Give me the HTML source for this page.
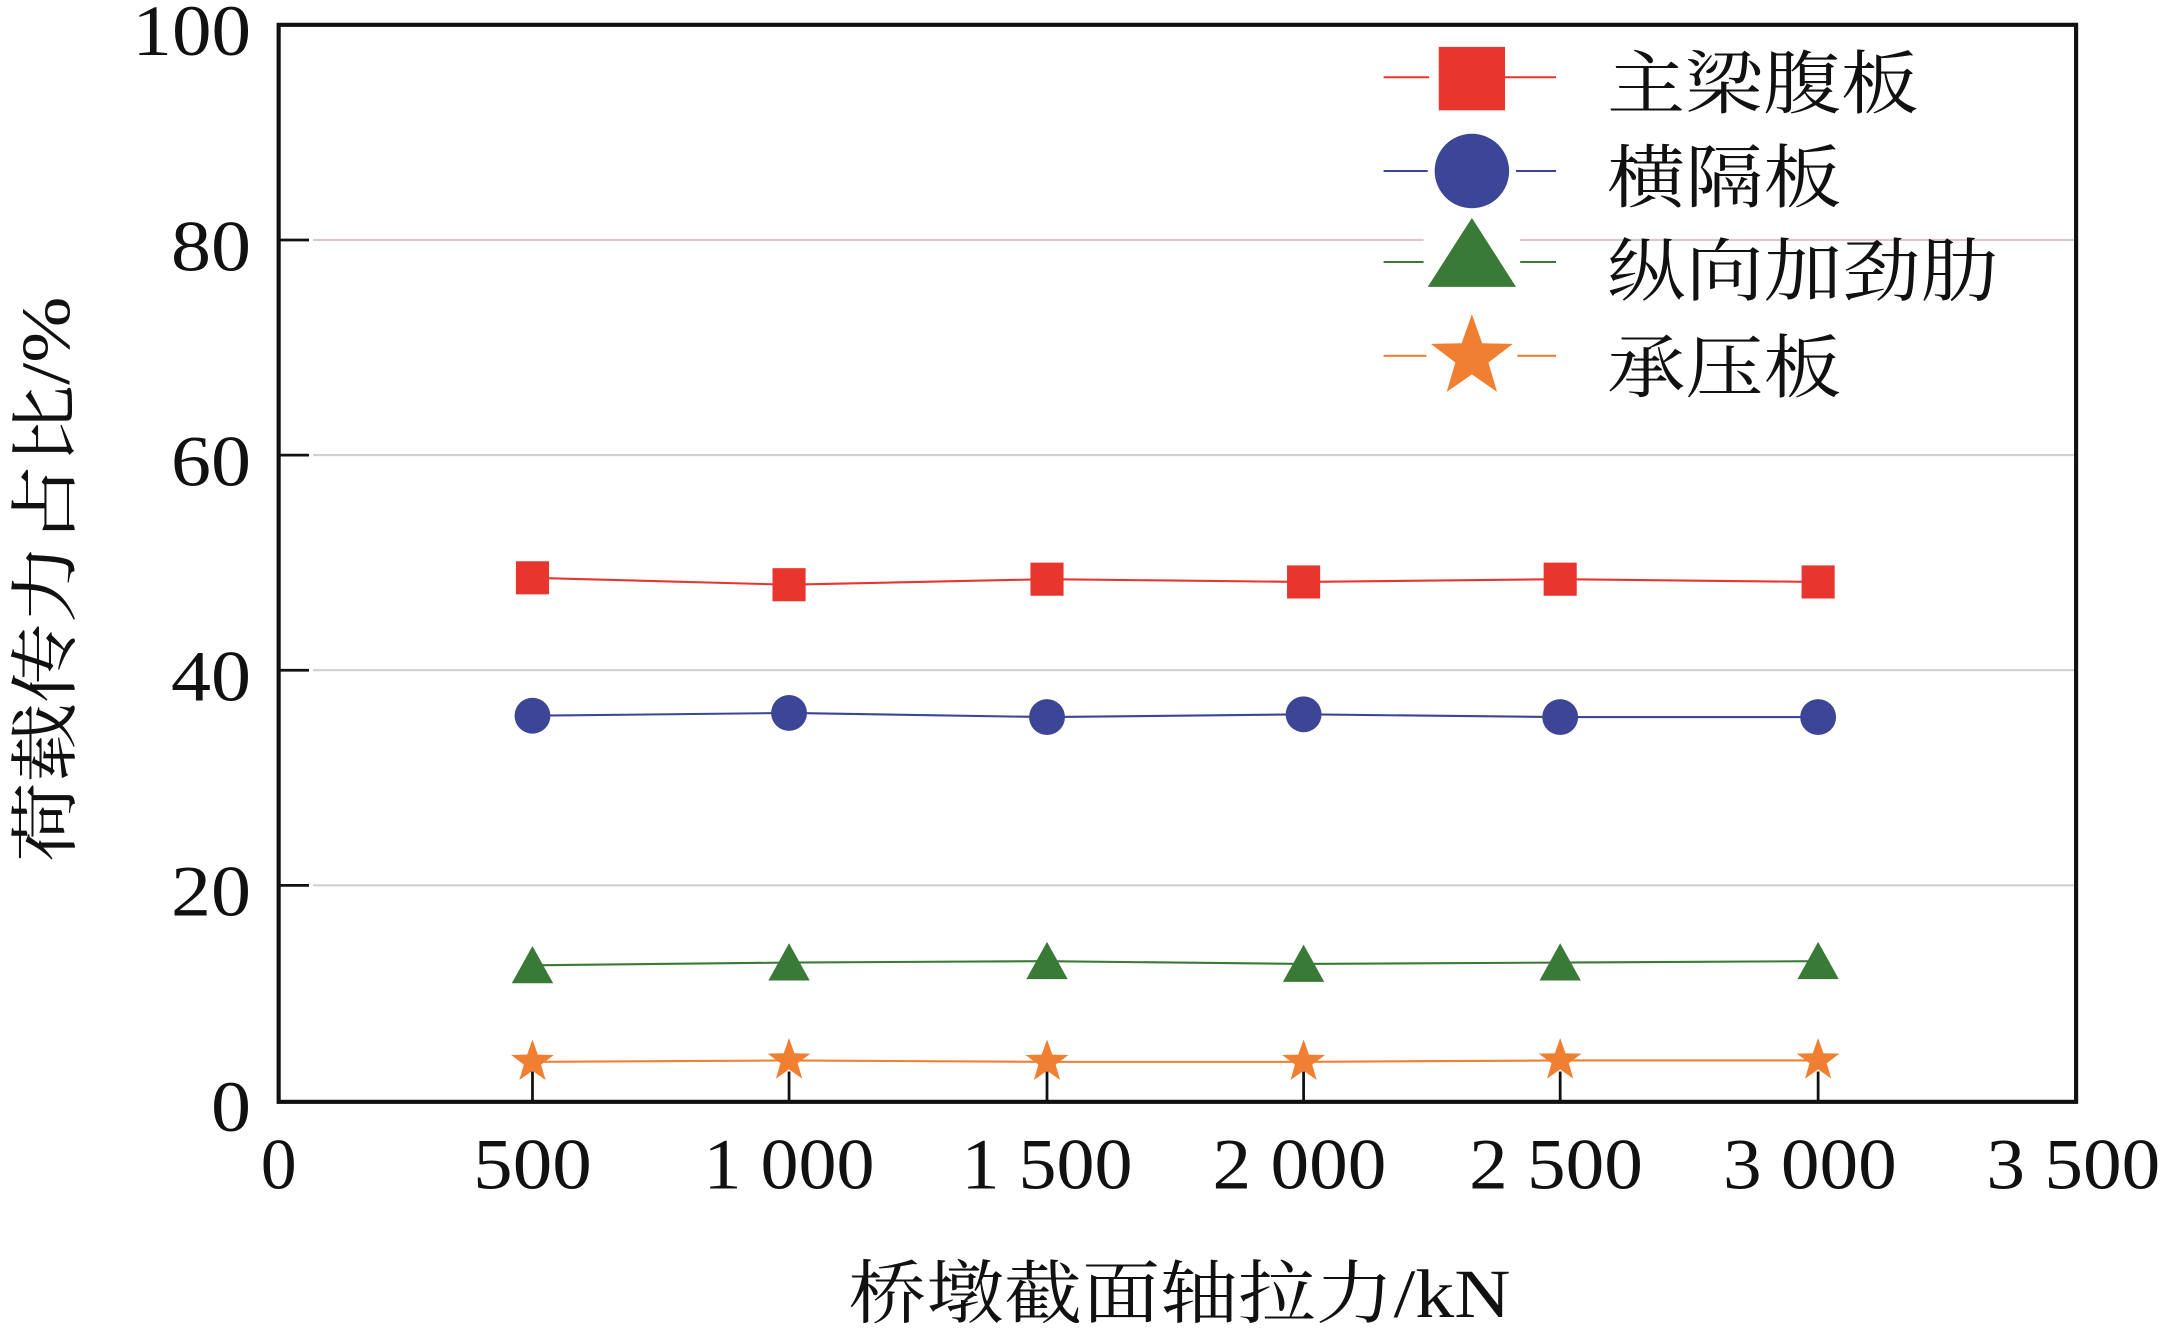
<!DOCTYPE html>
<html><head><meta charset="utf-8"><style>html,body{margin:0;padding:0;background:#fff}svg{display:block}</style></head>
<body>
<svg width="2163" height="1328" viewBox="0 0 1568 963" preserveAspectRatio="none" xmlns="http://www.w3.org/2000/svg" font-family="'Liberation Serif','Noto Serif CJK SC',serif">
<g stroke-width="1.5">
<line x1="227" y1="174" x2="1505" y2="174" stroke="#dcc6c6"/>
<line x1="227" y1="330" x2="1505" y2="330" stroke="#d0d0d0"/>
<line x1="227" y1="486" x2="1505" y2="486" stroke="#d0d0d0"/>
<line x1="227" y1="642" x2="1505" y2="642" stroke="#d0d0d0"/>
</g>
<g stroke="#111" stroke-width="2">
<line x1="386" y1="799" x2="386" y2="777"/><line x1="572" y1="799" x2="572" y2="777"/><line x1="759" y1="799" x2="759" y2="777"/><line x1="945" y1="799" x2="945" y2="777"/><line x1="1131" y1="799" x2="1131" y2="777"/><line x1="1318" y1="799" x2="1318" y2="777"/>
<line x1="202" y1="174" x2="224" y2="174"/><line x1="202" y1="330" x2="224" y2="330"/><line x1="202" y1="486" x2="224" y2="486"/><line x1="202" y1="642" x2="224" y2="642"/>
</g>
<rect x="202" y="18" width="1303" height="781" fill="none" stroke="#111" stroke-width="3"/>
<polyline points="386,419 572,424 759,420 945,422 1131,420 1318,422" fill="none" stroke="#e8362e" stroke-width="1.5"/>
<polyline points="386,519 572,517 759,520 945,518 1131,520 1318,520" fill="none" stroke="#3c4596" stroke-width="1.5"/>
<polyline points="386,700 572,698 759,697 945,699 1131,698 1318,697" fill="none" stroke="#3a7a37" stroke-width="1.5"/>
<polyline points="386,770 572,769 759,770 945,770 1131,769 1318,769" fill="none" stroke="#f07f32" stroke-width="1.5"/>
<g fill="#e8362e">
<rect x="374" y="407" width="24" height="24"/><rect x="560" y="412" width="24" height="24"/><rect x="747" y="408" width="24" height="24"/><rect x="933" y="410" width="24" height="24"/><rect x="1119" y="408" width="24" height="24"/><rect x="1306" y="410" width="24" height="24"/>
</g>
<g fill="#3c4596">
<circle cx="386" cy="519" r="13"/><circle cx="572" cy="517" r="13"/><circle cx="759" cy="520" r="13"/><circle cx="945" cy="518" r="13"/><circle cx="1131" cy="520" r="13"/><circle cx="1318" cy="520" r="13"/>
</g>
<g fill="#3a7a37">
<path d="M386,686 l15,27 h-30z"/><path d="M572,684 l15,27 h-30z"/><path d="M759,683 l15,27 h-30z"/><path d="M945,685 l15,27 h-30z"/><path d="M1131,684 l15,27 h-30z"/><path d="M1318,683 l15,27 h-30z"/>
</g>
<defs><path id="st" d="M0,-13 L3.1,-4.2 12.4,-4 5,1.6 7.6,10.5 0,5.2 -7.6,10.5 -5,1.6 -12.4,-4 -3.1,-4.2z"/></defs>
<g fill="#f07f32">
<use href="#st" transform="translate(386,770) scale(1.25)"/><use href="#st" transform="translate(572,769) scale(1.25)"/><use href="#st" transform="translate(759,770) scale(1.25)"/><use href="#st" transform="translate(945,770) scale(1.25)"/><use href="#st" transform="translate(1131,769) scale(1.25)"/><use href="#st" transform="translate(1318,769) scale(1.25)"/>
</g>
<g font-size="52" fill="#111">
<text x="182" y="40" text-anchor="end" textLength="86" lengthAdjust="spacingAndGlyphs">100</text>
<text x="182" y="196" text-anchor="end" textLength="58" lengthAdjust="spacingAndGlyphs">80</text>
<text x="182" y="352" text-anchor="end" textLength="58" lengthAdjust="spacingAndGlyphs">60</text>
<text x="182" y="508" text-anchor="end" textLength="58" lengthAdjust="spacingAndGlyphs">40</text>
<text x="182" y="664" text-anchor="end" textLength="58" lengthAdjust="spacingAndGlyphs">20</text>
<text x="182" y="820" text-anchor="end" textLength="29" lengthAdjust="spacingAndGlyphs">0</text>
<text x="202" y="862" text-anchor="middle">0</text>
<text x="386" y="862" text-anchor="middle" textLength="86" lengthAdjust="spacingAndGlyphs">500</text>
<text x="572" y="862" text-anchor="middle" textLength="124" lengthAdjust="spacingAndGlyphs">1 000</text>
<text x="759" y="862" text-anchor="middle" textLength="124" lengthAdjust="spacingAndGlyphs">1 500</text>
<text x="942" y="862" text-anchor="middle" textLength="126" lengthAdjust="spacingAndGlyphs">2 000</text>
<text x="1128" y="862" text-anchor="middle" textLength="126" lengthAdjust="spacingAndGlyphs">2 500</text>
<text x="1312" y="862" text-anchor="middle" textLength="126" lengthAdjust="spacingAndGlyphs">3 000</text>
<text x="1503" y="862" text-anchor="middle" textLength="126" lengthAdjust="spacingAndGlyphs">3 500</text>
<text x="855" y="955" text-anchor="middle" font-size="50" textLength="480" lengthAdjust="spacingAndGlyphs">桥墩截面轴拉力/kN</text>
<text transform="translate(50,420) rotate(-90)" text-anchor="middle" font-size="50" textLength="410" lengthAdjust="spacingAndGlyphs">荷载传力占比/%</text>
</g>
<g stroke-width="1.5">
<line x1="1003" y1="56" x2="1128" y2="56" stroke="#e8362e"/>
<line x1="1003" y1="124" x2="1128" y2="124" stroke="#3c4596"/>
<line x1="1003" y1="190" x2="1128" y2="190" stroke="#3a7a37"/>
<line x1="1003" y1="258" x2="1128" y2="258" stroke="#f07f32"/>
</g>
<rect x="1036" y="32" width="54" height="48" fill="#fff"/>
<rect x="1043" y="34" width="48" height="46" fill="#e8362e"/>
<rect x="1035" y="96" width="64" height="56" fill="#fff"/>
<circle cx="1067" cy="124" r="27" fill="#3c4596"/>
<rect x="1032" y="156" width="70" height="54" fill="#fff"/>
<path d="M1067,158 l32,50 h-64z" fill="#3a7a37"/>
<rect x="1034" y="226" width="66" height="60" fill="#fff"/>
<use href="#st" transform="translate(1067,259) scale(2.4)" fill="#f07f32"/>
<g font-size="50" fill="#111">
<text x="1165" y="78" textLength="226" lengthAdjust="spacingAndGlyphs">主梁腹板</text>
<text x="1165" y="146" textLength="170" lengthAdjust="spacingAndGlyphs">横隔板</text>
<text x="1165" y="214" textLength="284" lengthAdjust="spacingAndGlyphs">纵向加劲肋</text>
<text x="1165" y="284" textLength="170" lengthAdjust="spacingAndGlyphs">承压板</text>
</g>
</svg>
</body></html>
